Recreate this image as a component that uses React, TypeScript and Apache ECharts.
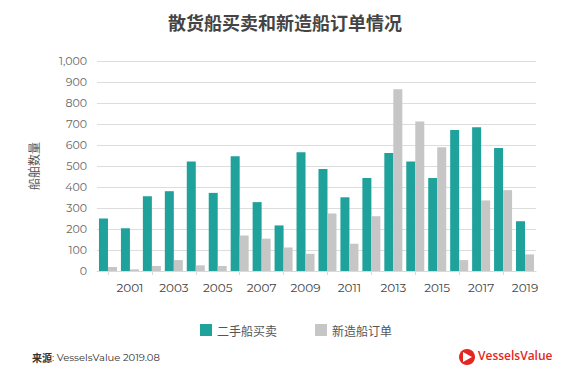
import React, { useEffect, useRef } from "react";
import * as echarts from "echarts";

const years = ["2000","2001","2002","2003","2004","2005","2006","2007","2008","2009","2010","2011","2012","2013","2014","2015","2016","2017","2018","2019"];
const secondHand = [250, 203, 356, 380, 522, 372, 546, 328, 217, 565, 486, 351, 443, 562, 522, 443, 672, 684, 586, 237];
const newOrders = [19, 8, 24, 52, 27, 24, 169, 154, 112, 82, 274, 130, 261, 866, 712, 589, 52, 336, 385, 79];
const seriesNames = ["二手船买卖", "新造船订单"];
const titleText = "散货船买卖和新造船订单情况";
const yAxisName = "船舶数量";

export default function App() {
  const ref = useRef<HTMLDivElement>(null);
  useEffect(() => {
    const chart = echarts.init(ref.current!, null, { renderer: "svg" });
    const font = "Montserrat, 'Open Sans', 'Noto Sans', sans-serif";
    chart.setOption({
      animation: false,
      backgroundColor: "#ffffff",
      title: {
        text: titleText,
        left: "center",
        top: 8,
        textStyle: { fontSize: 18, fontWeight: "bold", color: "#444444", fontFamily: "'Noto Sans CJK SC', sans-serif" },
      },
      grid: { left: 97, right: 34, top: 61, bottom: 100 },
      legend: {
        data: seriesNames,
        left: 195,
        top: 319,
        itemWidth: 12,
        itemHeight: 12,
        itemGap: 38,
        icon: "rect",
        textStyle: { fontSize: 12, color: "#555555", fontFamily: "'Noto Sans CJK SC', sans-serif" },
      },
      xAxis: {
        type: "category",
        data: years,
        axisLine: { lineStyle: { color: "#d9d9d9" } },
        axisTick: { show: true, alignWithLabel: true, interval: (i: number) => i % 2 === 0, length: 4, lineStyle: { color: "#d9d9d9" } },
        axisLabel: { interval: (i: number) => i % 2 === 1, color: "#444444", fontSize: 12, margin: 10, fontFamily: font },
      },
      yAxis: {
        type: "value",
        min: 0,
        max: 1000,
        interval: 100,
        name: yAxisName,
        nameLocation: "middle",
        nameGap: 58,
        nameRotate: 90,
        nameTextStyle: { color: "#555555", fontSize: 12, fontFamily: "'Noto Sans CJK SC', sans-serif" },
        axisLine: { show: false },
        axisTick: { show: false },
        splitLine: { lineStyle: { color: "#dddddd" } },
        axisLabel: {
          color: "#666666",
          fontSize: 11,
          margin: 10,
          fontFamily: font,
          formatter: (v: number) => v.toLocaleString("en-US"),
        },
      },
      series: [
        { name: seriesNames[0], type: "bar", data: secondHand, itemStyle: { color: "#1fa29c" }, barGap: "0%", barCategoryGap: "18%" },
        { name: seriesNames[1], type: "bar", data: newOrders, itemStyle: { color: "#c6c6c6" } },
      ],
      graphic: [
        {
          type: "text",
          left: 32,
          top: 352,
          style: {
            text: "{b|来源}: VesselsValue 2019.08",
            rich: {
              b: { fontWeight: "bold", fontSize: 10, fill: "#333333", fontFamily: "'Noto Sans CJK SC', sans-serif" },
            },
            fontSize: 10,
            fill: "#333333",
            fontFamily: font,
          },
        },
        { type: "circle", shape: { cx: 467, cy: 357, r: 8 }, style: { fill: "#e3261f" } },
        { type: "polygon", shape: { points: [[463, 352], [472, 357], [463, 362]] }, style: { fill: "#ffffff" } },
        {
          type: "text",
          left: 478,
          top: 349,
          style: { text: "VesselsValue", fill: "#e3261f", fontSize: 12, fontWeight: 600, fontFamily: "'Open Sans', sans-serif" },
        },
      ],
    });
    return () => chart.dispose();
  }, []);
  return <div ref={ref} style={{ position: "absolute", left: 0, top: 0, width: 570, height: 371 }} />;
}
